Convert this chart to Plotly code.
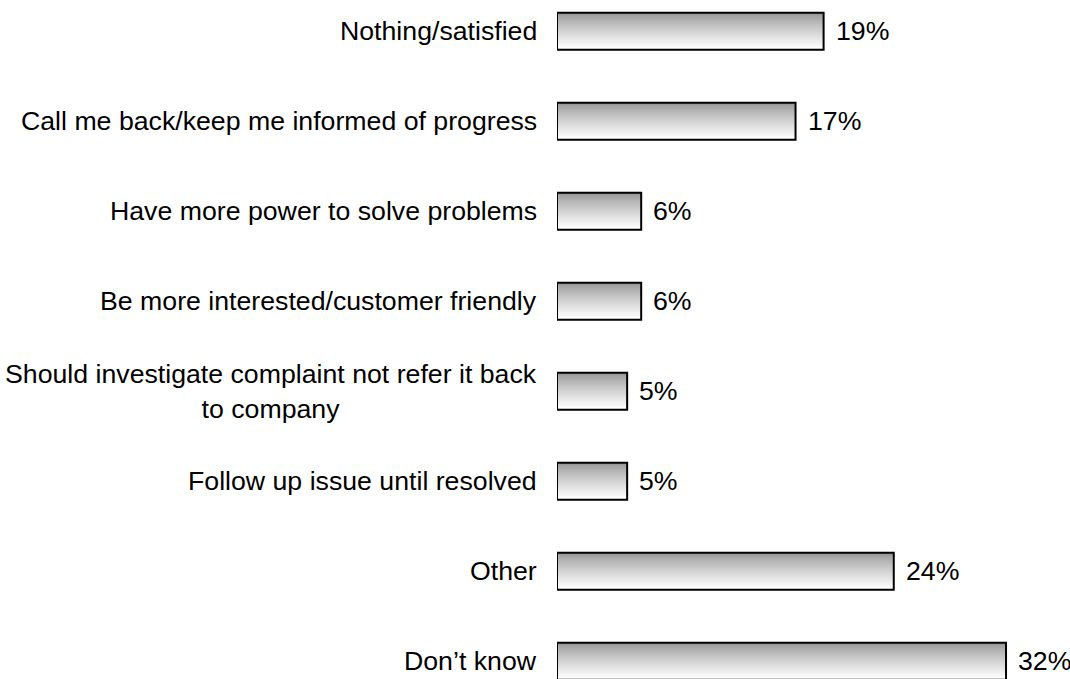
import plotly.graph_objects as go

categories = [
    "Nothing/satisfied",
    "Call me back/keep me informed of progress",
    "Have more power to solve problems",
    "Be more interested/customer friendly",
    "Should investigate complaint not refer it back<br>to company",
    "Follow up issue until resolved",
    "Other",
    "Don\u2019t know",
]
values = [19, 17, 6, 6, 5, 5, 24, 32]

FONT = "Liberation Sans, Arial, sans-serif"
FSIZE = 26.7
pos = list(range(len(categories)))
bar_h = 0.41
n_strips = 20
strip = bar_h / n_strips

fig = go.Figure()

# gradient fill: each strip extends to the bottom, lighter ones drawn on top
top_c = 150
bot_c = 255
for k in range(n_strips):
    t = k / (n_strips - 1)
    t2 = t ** 0.8
    c = int(round(top_c + (bot_c - top_c) * t2))
    fig.add_trace(go.Bar(
        x=values, y=pos, orientation="h",
        width=bar_h - k * strip,
        offset=-bar_h / 2 + k * strip,
        marker=dict(color=f"rgb({c},{c},{c})", line=dict(width=0)),
        hoverinfo="skip", showlegend=False,
    ))

# outline
fig.add_trace(go.Bar(
    x=values, y=pos, orientation="h",
    width=bar_h, offset=-bar_h / 2,
    marker=dict(color="rgba(0,0,0,0)", line=dict(color="black", width=2)),
    showlegend=False,
))

annotations = []
for i, (cat, v) in enumerate(zip(categories, values)):
    annotations.append(dict(
        x=0, xref="paper", y=i, yref="y", text=cat, showarrow=False,
        xanchor="right", yanchor="middle", xshift=-18, align="center",
        font=dict(family=FONT, size=FSIZE, color="black"),
    ))
    annotations.append(dict(
        x=v, xref="x", y=i, yref="y", text=f"{v}%", showarrow=False,
        xanchor="left", yanchor="middle", xshift=10,
        font=dict(family=FONT, size=FSIZE, color="black"),
    ))

fig.update_layout(
    width=1070, height=679,
    margin=dict(l=557, r=0, t=0, b=0),
    paper_bgcolor="white", plot_bgcolor="white",
    barmode="overlay",
    xaxis=dict(range=[0, 36.56], visible=False),
    yaxis=dict(range=[7.197, -0.348], visible=False),
    annotations=annotations,
    font=dict(family=FONT),
)

fig.write_html("out.html")
